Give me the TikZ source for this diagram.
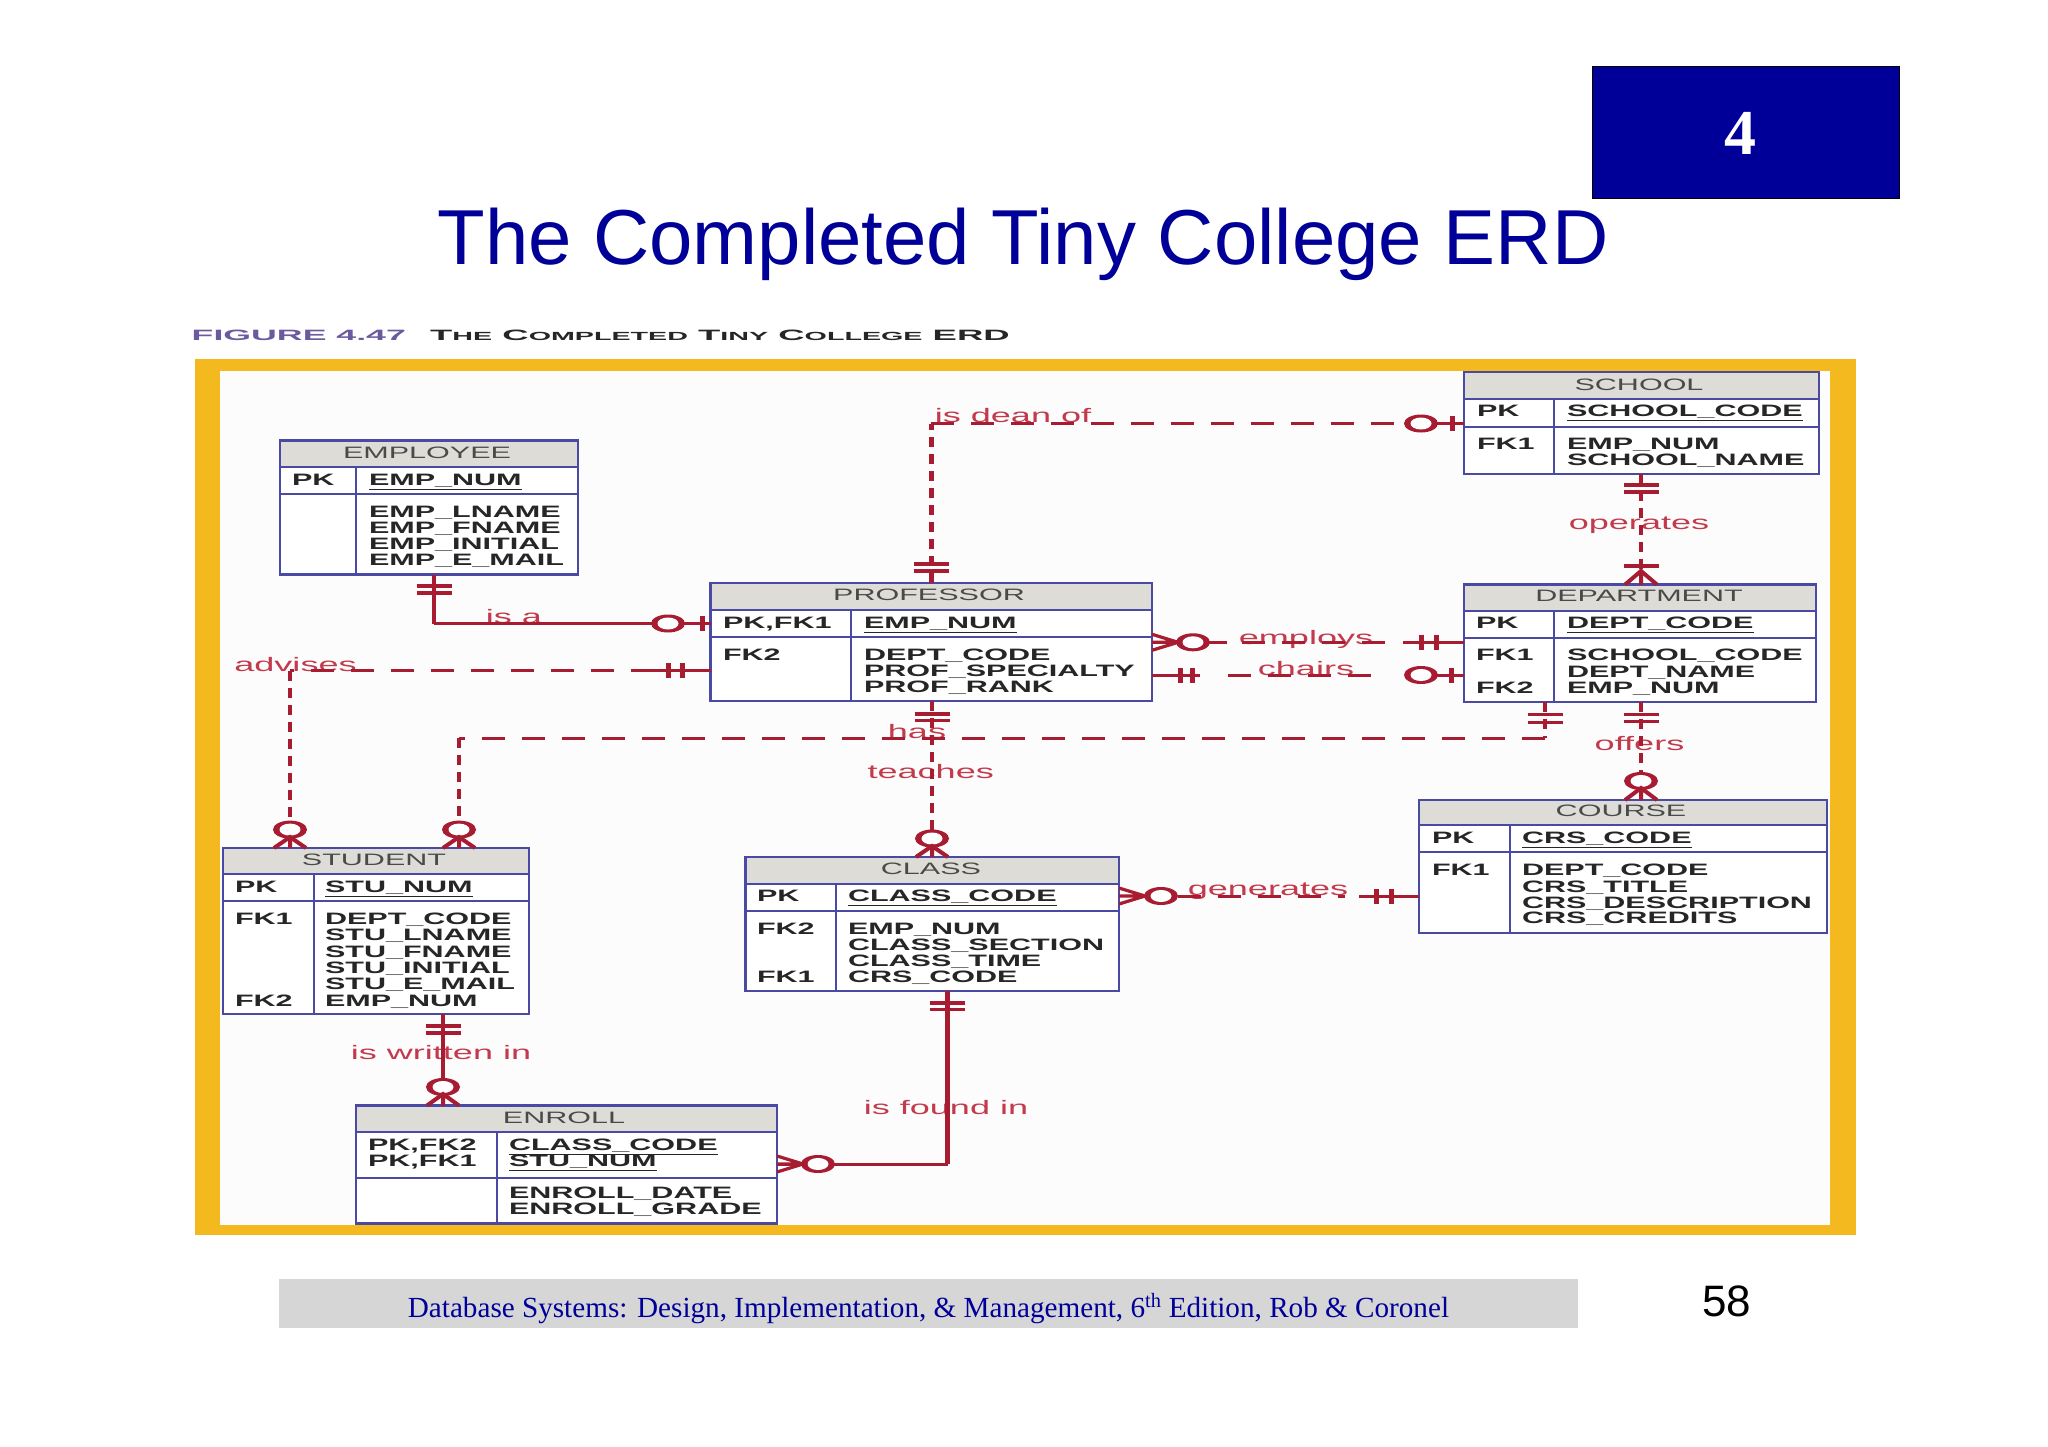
\documentclass[tikz,border=0pt]{standalone}
\usepackage{fontspec}
\setmainfont{Liberation Sans}
\newfontfamily\erdf[FakeStretch=1.85]{Liberation Sans}
\newfontfamily\capf[FakeStretch=2.38]{Liberation Sans}
\newfontfamily\capg[FakeStretch=2.43]{Liberation Sans}
\newfontfamily\timesf{Liberation Serif}
\definecolor{navy}{HTML}{000099}
\definecolor{gold}{HTML}{F4B91E}
\definecolor{tblblue}{HTML}{4A4AA5}
\definecolor{hdrgray}{HTML}{DEDCD6}
\definecolor{hdrtext}{HTML}{4A4A4A}
\definecolor{rel}{HTML}{A81C32}
\definecolor{rellabel}{HTML}{C23A4C}
\definecolor{footgray}{HTML}{D6D6D6}
\definecolor{figpurple}{HTML}{6B5B9E}
\newcount\tcount
\tikzset{
  tbl/.style={draw=tblblue,line width=2.4pt,fill=white,inner sep=0pt,outer sep=0pt},
  tline/.style={draw=tblblue,line width=2pt},
  txt/.style={inner sep=0pt,outer sep=0pt,anchor=base west,font=\erdf\bfseries\fontsize{16.5}{18}\selectfont,text=black!85},
  hdr/.style={inner sep=0pt,outer sep=0pt,anchor=base,font=\erdf\fontsize{16.5}{18}\selectfont,text=hdrtext},
  rlab/.style={inner sep=0pt,outer sep=0pt,anchor=base,font=\erdf\fontsize{19.5}{20}\selectfont,text=rellabel},
  hs/.style={draw=rel,line width=3pt},
  vs/.style={draw=rel,line width=4.8pt},
  hd/.style={hs,dash pattern=on 23pt off 17pt},
  vd/.style={vs,dash pattern=on 10pt off 7pt},
  hbarm/.style={draw=rel,line width=3.2pt},
  vbarm/.style={draw=rel,line width=5pt},
}
% name x1 y1 x2 hdrbottom rowbottom y2 col
\newcommand\erdbox[8]{%
  \node[tbl,minimum width={#4pt-#2pt},minimum height={#7pt-#3pt}] (#1) at ({(#2+#4)/2},{(#3+#7)/2}) {};
  \fill[hdrgray] (#2,#3) rectangle (#4,#5);
  \draw[tbl,fill=none] (#2,#3) rectangle (#4,#7);
  \draw[tline] (#2,#5) -- (#4,#5);
  \draw[tline] (#2,#6) -- (#4,#6);
  \draw[tline] (#8,#5) -- (#8,#7);
}
\newcommand\tk[3]{\global\advance\tcount by 1
  \node[txt] (t\the\tcount) at (#1,{#2+5.9}) {#3};}
\newcommand\hk[3]{\global\advance\tcount by 1
  \node[hdr] (t\the\tcount) at (#1,{#2+5.9}) {#3};}
\newcommand\rlb[3]{\global\advance\tcount by 1
  \node[rlab] (t\the\tcount) at (#1,{#2+6.5}) {#3};}
% bars on a vertical line: x y1 y2
\newcommand\hbars[3]{\draw[hbarm] ({#1-17.5},#2) -- ({#1+17.5},#2) ({#1-17.5},#3) -- ({#1+17.5},#3);}
% bar(s) on a horizontal line: y x1 x2
\newcommand\vbars[3]{\draw[vbarm] (#2,{#1-7.5}) -- (#2,{#1+7.5}) (#3,{#1-7.5}) -- (#3,{#1+7.5});}
\newcommand\rngm[2]{\fill[rel] (#1,#2) ellipse [x radius=17pt,y radius=9pt];
  \fill[white] (#1,#2) ellipse [x radius=10.5pt,y radius=6pt];}
% crow foot down: x apexy tabley
\newcommand\crowd[3]{\draw[draw=rel,line width=4pt] ({#1-16},#3) -- (#1,#2) -- ({#1+16},#3) (#1,#2) -- (#1,#3);}
% crow foot horizontal: y apexx tablex
\newcommand\crowh[3]{\draw[draw=rel,line width=3.2pt] (#3,{#1-8}) -- (#2,#1) -- (#3,{#1+8}) (#2,#1) -- (#3,#1);}
\begin{document}
\begin{tikzpicture}[x=1pt,y=-1pt]
\path[use as bounding box,fill=white] (0,0) rectangle (2048,1447);
% header box, title
\node[fill=navy,draw=black,line width=1pt,minimum width=307pt,minimum height=132pt,inner sep=0pt,outer sep=0pt] (chap) at (1745.5,133) {};
\node[inner sep=0pt,text=white,font=\timesf\bfseries\fontsize{64}{64}\selectfont] (chapn) at (1740,133) {4};
\node[inner sep=0pt,anchor=base,text=navy,font=\fontsize{77.95}{80}\selectfont] (title) at (1023,265) {The Completed Tiny College ERD};
% caption
\node[inner sep=0pt,anchor=base west,text=figpurple,font=\capf\bfseries\fontsize{15}{18}\selectfont] (figno) at (191.5,340.4) {FIGURE 4.47};
\node[inner sep=0pt,anchor=base west,text=black!85,font=\capg\bfseries\fontsize{15}{18}\selectfont] (figcap) at (430,340.4) {T{\fontsize{11.8}{18}\selectfont HE} C{\fontsize{11.8}{18}\selectfont OMPLETED} T{\fontsize{11.8}{18}\selectfont INY} C{\fontsize{11.8}{18}\selectfont OLLEGE} ERD};
\begin{scope}[shift={(0,1)}]
% frame
\fill[gold] (195,358) rectangle (1856,1234);
\fill[white!99!black] (220,370) rectangle (1830,1224);
% tables
\erdbox{employee}{280}{439.5}{578}{466}{493}{573.6}{356}
\hk{427}{452}{EMPLOYEE}
\tk{292}{478.6}{PK}
\tk{369}{478.6}{\underline{EMP\_NUM}}
\tk{369}{511}{EMP\_LNAME}
\tk{369}{527}{EMP\_FNAME}
\tk{369}{543}{EMP\_INITIAL}
\tk{369}{559}{EMP\_E\_MAIL}

\erdbox{school}{1464}{371}{1819}{398}{426}{473}{1554}
\hk{1639}{383.5}{SCHOOL}
\tk{1477}{410}{PK}
\tk{1567}{410}{\underline{SCHOOL\_CODE}}
\tk{1477}{443}{FK1}
\tk{1567}{443}{EMP\_NUM}
\tk{1567}{459}{SCHOOL\_NAME}

\erdbox{dept}{1464}{583.6}{1816}{610}{637}{701}{1554}
\hk{1639}{595}{DEPARTMENT}
\tk{1476}{622}{PK}
\tk{1567}{622}{\underline{DEPT\_CODE}}
\tk{1476}{654}{FK1}
\tk{1567}{654}{SCHOOL\_CODE}
\tk{1567}{670.6}{DEPT\_NAME}
\tk{1476}{687}{FK2}
\tk{1567}{687}{EMP\_NUM}

\erdbox{course}{1419}{799}{1827}{824}{851}{932}{1509.5}
\hk{1621}{810}{COURSE}
\tk{1432}{837}{PK}
\tk{1522}{837}{\underline{CRS\_CODE}}
\tk{1432}{869}{FK1}
\tk{1522}{869}{DEPT\_CODE}
\tk{1522}{885.5}{CRS\_TITLE}
\tk{1522}{901.5}{CRS\_DESCRIPTION}
\tk{1522}{917}{CRS\_CREDITS}

\erdbox{prof}{710.6}{582}{1152}{608.6}{636}{700}{851}
\hk{929}{594}{PROFESSOR}
\tk{723}{621.4}{PK,FK1}
\tk{864}{621.4}{\underline{EMP\_NUM}}
\tk{723}{653.6}{FK2}
\tk{864}{653.6}{DEPT\_CODE}
\tk{864}{669.6}{PROF\_SPECIALTY}
\tk{864}{685.7}{PROF\_RANK}

\erdbox{student}{223}{847}{529}{873}{900}{1013}{314}
\hk{374}{859}{STUDENT}
\tk{235}{886}{PK}
\tk{325}{886}{\underline{STU\_NUM}}
\tk{235}{918}{FK1}
\tk{325}{918}{DEPT\_CODE}
\tk{325}{934}{STU\_LNAME}
\tk{325}{950.5}{STU\_FNAME}
\tk{325}{967}{STU\_INITIAL}
\tk{325}{983}{STU\_E\_MAIL}
\tk{235}{999.4}{FK2}
\tk{325}{999.4}{EMP\_NUM}

\erdbox{class}{745.5}{856}{1119}{882.5}{909.5}{990}{836}
\hk{931}{868}{CLASS}
\tk{757}{895}{PK}
\tk{848}{895}{\underline{CLASS\_CODE}}
\tk{757}{927.6}{FK2}
\tk{848}{927.6}{EMP\_NUM}
\tk{848}{943.5}{CLASS\_SECTION}
\tk{848}{959.4}{CLASS\_TIME}
\tk{757}{975.7}{FK1}
\tk{848}{975.7}{CRS\_CODE}

\erdbox{enroll}{356}{1104.5}{777}{1130.7}{1177}{1222.5}{497}
\hk{564}{1116.7}{ENROLL}
\tk{368}{1143.7}{PK,FK2}
\tk{509}{1143.7}{\underline{CLASS\_CODE}}
\tk{368}{1159.6}{PK,FK1}
\tk{509}{1159.6}{\underline{STU\_NUM}}
\tk{509}{1191.8}{ENROLL\_DATE}
\tk{509}{1208}{ENROLL\_GRADE}

% relationship labels
\rlb{295.5}{663.6}{advises}
\rlb{514}{616}{is a}
\rlb{1013}{415}{is dean of}
\rlb{1639}{522}{operates}
\rlb{1306}{636.5}{employs}
\rlb{1306}{668}{chairs}
\rlb{917}{730.7}{has}
\rlb{930.7}{771}{teaches}
\rlb{1639.5}{743}{offers}
\rlb{1268}{888}{generates}
\rlb{441}{1052}{is written in}
\rlb{946}{1107}{is found in}

% is dean of
\coordinate (deanC) at (931.3,422.5);
\draw[vd] (prof.north) -- (deanC);
\draw[hd] (deanC) -- (school.west |- deanC);
\hbars{931.3}{563}{570}
\rngm{1421}{422.5}
\vbars{422.5}{1452}{1452}
\draw[hs] (1437,422.5) -- (school.west |- deanC);
% is a
\coordinate (isaC) at (434,622.5);
\draw[vs] (employee.south -| isaC) -- (isaC);
\draw[hs] (isaC) -- (prof.west |- isaC);
\hbars{434}{585}{592}
\rngm{668}{622.5}
\vbars{622.5}{702}{702}
% advises
\coordinate (advC) at (290,669.6);
\coordinate (advE) at (prof.west |- advC);
\draw[hd] (654,669.6) -- (advC);
\draw[hs] (advE) -- (654,669.6);
\draw[vd] (advC) -- (student.north -| advC);
\vbars{669.6}{668}{682.5}
\rngm{290}{828.6}
\crowd{290}{836}{847}
% has
\coordinate (hasA) at (1545,737.4);
\coordinate (hasB) at (459,737.4);
\draw[vd] (dept.south -| hasA) -- (hasA);
\draw[hd] (hasA) -- (hasB);
\draw[vd] (hasB) -- (student.north -| hasB);
\hbars{1545}{713.7}{721.6}
\rngm{459}{828.6}
\crowd{459}{836}{847}
% teaches
\coordinate (teaA) at (932,700);
\draw[vd] (teaA) -- (class.north -| teaA);
\hbars{932}{713}{719.5}
\rngm{932}{837.5}
\crowd{932}{845}{856}
% employs
\coordinate (empA) at (1152,641.3);
\draw[hd] (1242,641.3) -- (1385,641.3);
\draw[hs] (1403,641.3) -- (dept.west |- empA);
\draw[hs] (1176,641.3) -- (1227,641.3);
\crowh{641.3}{1178}{1152}
\rngm{1193}{641.3}
\vbars{641.3}{1421}{1436}
% chairs
\coordinate (chaA) at (1152,674);
\draw[hs] (chaA) -- (1200,674);
\draw[hd] (1228,674) -- (1385,674);
\draw[hs] (1405,674) -- (dept.west |- chaA);
\vbars{674}{1180}{1192}
\rngm{1421}{674}
\vbars{674}{1451}{1451}
% operates
\coordinate (opA) at (1641,473);
\draw[vd] (opA) -- (dept.north -| opA);
\hbars{1641}{484}{491}
\hbars{1641}{565}{565}
\crowd{1641}{570}{583.6}
% offers
\coordinate (ofA) at (1641,701);
\draw[vd] (ofA) -- (course.north -| ofA);
\hbars{1641}{713.7}{720.4}
\rngm{1641}{780}
\crowd{1641}{787}{799}
% generates
\coordinate (genA) at (1119,895);
\draw[hd] (1178,895) -- (1345,895);
\draw[hs] (1359,895) -- (course.west |- genA);
\crowh{895}{1145}{1119}
\rngm{1161}{895}
\vbars{895}{1376}{1391}
% is written in
\coordinate (wrA) at (443,1013);
\draw[vs] (wrA) -- (enroll.north -| wrA);
\hbars{443}{1025}{1032}
\rngm{443}{1086}
\crowd{443}{1093}{1104.5}
% is found in
\coordinate (fdC) at (947.6,1163);
\draw[vs] (class.south -| fdC) -- (fdC);
\draw[hs] (fdC) -- (enroll.east |- fdC);
\hbars{947.6}{1002}{1008.6}
\rngm{818}{1163}
\crowh{1163}{803}{777}
% footer band
\fill[footgray] (279,1278) rectangle (1578,1327);
\end{scope}
\node[inner sep=0pt,anchor=base,text=navy,font=\timesf\fontsize{29.17}{32}\selectfont] (foot) at (928.5,1317) {Database Systems: Design, Implementation, \& Management, 6\textsuperscript{th} Edition, Rob \& Coronel};
\node[inner sep=0pt,anchor=base,text=black,font=\fontsize{44}{46}\selectfont] (page) at (1726.5,1316) {58};
\end{tikzpicture}
\end{document}
